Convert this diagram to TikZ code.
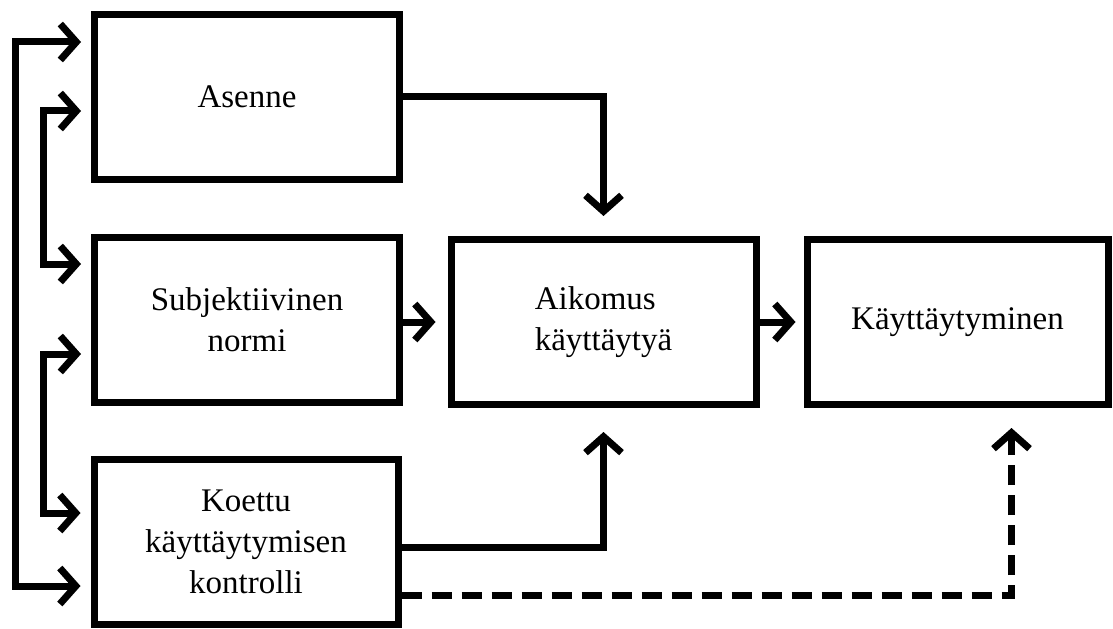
\documentclass[tikz,border=0pt]{standalone}
\usepackage{fontspec}
\setmainfont{Liberation Serif}
\usetikzlibrary{arrows.meta,positioning,calc}

\begin{document}
\begin{tikzpicture}[x=0.5pt, y=0.5pt, >={Straight Barb[length=8pt, width=18pt]}]
  \tikzset{laatikko/.style={draw, line width=3.5pt, minimum width=152.5pt, minimum height=82.5pt, align=center, inner sep=2pt, font=\fontsize{16.5}{20.5}\selectfont},
           nuoli/.style={->, line width=3.5pt},
           molemmat/.style={<->, line width=3.5pt, shorten <=5pt, shorten >=5pt},
           katkoviiva/.style={dash pattern=on 10pt off 5pt}}
  \useasboundingbox (0,0) rectangle (1113,628);
  % laatikot
  \node[laatikko] (asenne) at (247,531) {Asenne};
  \node[laatikko] (normi) at (247,308.5) {Subjektiivinen\\normi};
  \node[laatikko, minimum width=152pt] (kontrolli) at (246,86) {Koettu\\käyttäytymisen\\kontrolli};
  \node[laatikko, align=left] (aikomus) at (603.5,306) {Aikomus\\käyttäytyä};
  \node[laatikko, minimum width=150.5pt] (kaytos) at (957.5,306) {Käyttäytyminen};
  % nuolet oikealle
  \draw[nuoli, shorten >=10pt] (asenne.east) -| (aikomus.north);
  \draw[nuoli, shorten >=6pt] (normi.east |- aikomus.west) -- (aikomus.west);
  \draw[nuoli, shorten >=4pt] (aikomus.east) -- (kaytos.west);
  \draw[nuoli, shorten >=12pt] ([yshift=-2.5pt]kontrolli.east) -| (aikomus.south);
  \draw[nuoli, katkoviiva, shorten >=10pt] ([yshift=-26.5pt]kontrolli.east) -| ([xshift=27pt]kaytos.south);
  % yhteydet vasemmalla
  \draw[molemmat] ([yshift=27.5pt]asenne.west) -- ++(-37.75pt,0) |- ([yshift=-22pt]kontrolli.west);
  \draw[molemmat] ([yshift=-7pt]asenne.west) -- ++(-23.75pt,0) |- ([yshift=27.75pt]normi.west);
  \draw[molemmat] ([yshift=-17.25pt]normi.west) -- ++(-23.75pt,0) |- ([yshift=14.5pt]kontrolli.west);
\end{tikzpicture}
\end{document}
